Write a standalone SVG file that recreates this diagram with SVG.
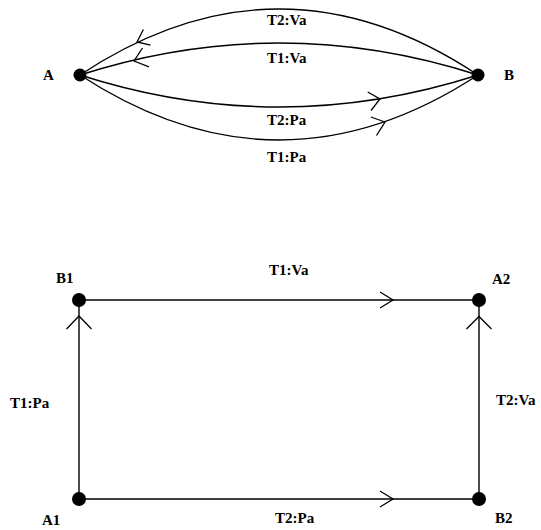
<svg xmlns="http://www.w3.org/2000/svg" width="541" height="530" viewBox="0 0 541 530">
<style>
.e{fill:none;stroke:#000;stroke-width:1.4;stroke-linejoin:miter}
.h{fill:none;stroke:#000;stroke-width:1.3}
.n{fill:#000}
.t{font-family:"Liberation Serif","Times New Roman",serif;font-weight:bold;font-size:15px;fill:#000}
</style>
<rect width="541" height="530" fill="#fff"/>
<g id="connectors">
<path class="e" d="M80 75 Q279 -57 478 75"/>
<path class="h" d="M143.4 29.5 L137 42 L150.6 45.2"/>
<path class="e" d="M80 75 Q279 11 478 75"/>
<path class="h" d="M142.5 48 L134 61 L149 66.8"/>
<path class="e" d="M80 75 Q279 139 478 75"/>
<path class="h" d="M367.7 92 L380 99 L371 110.5"/>
<path class="e" d="M80 75 Q279 205 478 75"/>
<path class="h" d="M370.8 117 L385 122 L376.5 135.5"/>
<path class="e" d="M79 300 L479 300"/>
<path class="h" d="M380 292 L393 300 L380 308"/>
<path class="e" d="M79 499 L479 499"/>
<path class="h" d="M380 491 L393 499 L380 507"/>
<path class="e" d="M79 499 L79 300"/>
<path class="h" d="M66.5 329 L79 316 L91.5 329"/>
<path class="e" d="M479 499 L479 300"/>
<path class="h" d="M466.5 329 L479 316.5 L491.5 329"/>
</g>
<g id="labels">
<text class="t" x="267" y="25">T2:Va</text>
<text class="t" x="267" y="63">T1:Va</text>
<text class="t" x="267" y="125">T2:Pa</text>
<text class="t" x="267" y="162">T1:Pa</text>
<text class="t" x="269" y="275">T1:Va</text>
<text class="t" x="10" y="408">T1:Pa</text>
<text class="t" x="496" y="405">T2:Va</text>
<text class="t" x="275" y="523">T2:Pa</text>
</g>
<g id="A"><circle class="n" cx="80" cy="75" r="6.5"/><text class="t" x="43" y="80">A</text></g>
<g id="B"><circle class="n" cx="478" cy="75" r="6.5"/><text class="t" x="504" y="80">B</text></g>
<g id="B1"><circle class="n" cx="79" cy="300" r="7"/><text class="t" x="56" y="283">B1</text></g>
<g id="A2"><circle class="n" cx="479" cy="300" r="7"/><text class="t" x="492" y="284">A2</text></g>
<g id="A1"><circle class="n" cx="79" cy="499" r="7"/><text class="t" x="42" y="525">A1</text></g>
<g id="B2"><circle class="n" cx="479" cy="499" r="7"/><text class="t" x="495" y="523">B2</text></g>
</svg>
